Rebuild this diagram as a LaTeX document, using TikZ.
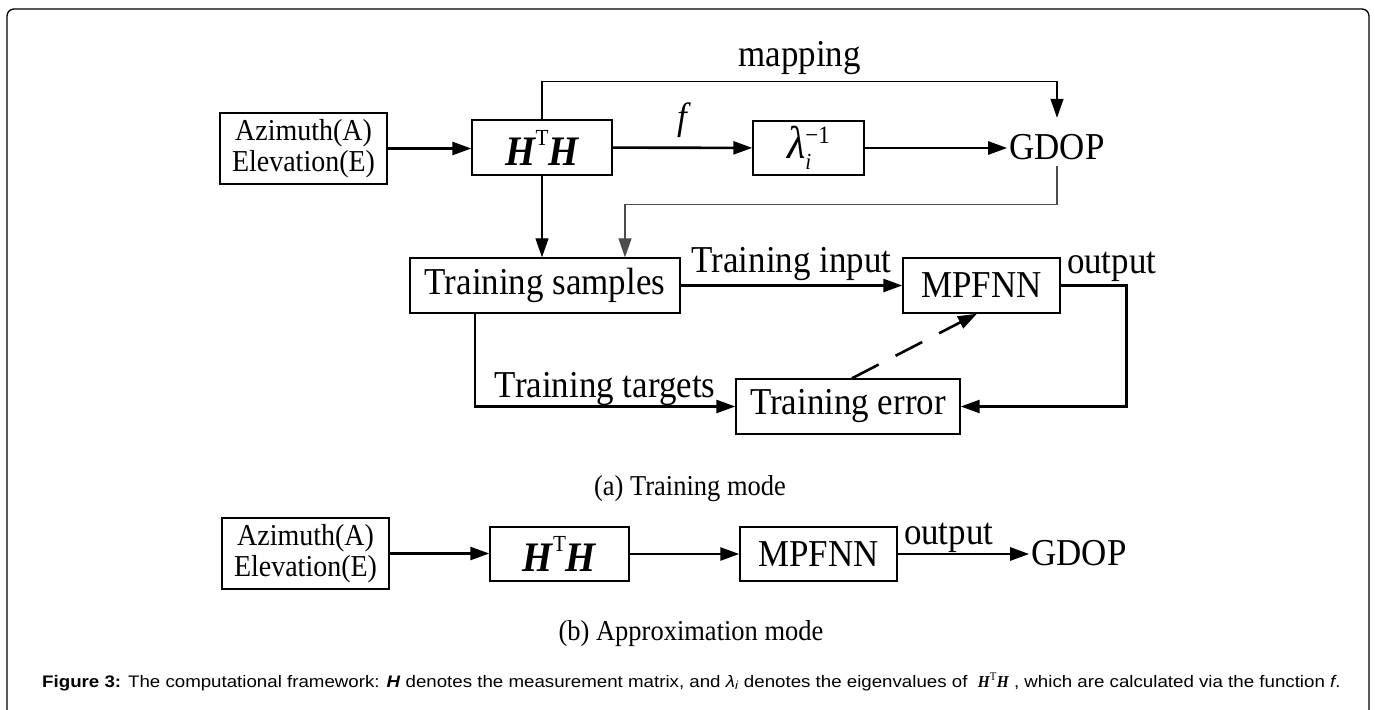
\documentclass[tikz,border=0pt]{standalone}
\usepackage{fontspec}
\setmainfont[FakeStretch=0.92]{Liberation Serif}
\newfontfamily\capfont[FakeStretch=1.12]{Liberation Sans}
\usetikzlibrary{arrows.meta}

\newcommand{\HtH}{{\fontsize{42}{42}\selectfont\bfseries\itshape H}\raisebox{20pt}{\fontsize{23}{23}\selectfont T}{\fontsize{42}{42}\selectfont\bfseries\itshape H}}
\newcommand{\lam}{{\fontsize{46}{46}\selectfont\itshape λ}\rlap{\raisebox{-11pt}{\fontsize{23}{23}\selectfont\itshape i}}\raisebox{15pt}{\fontsize{25}{25}\selectfont −1}}

\begin{document}
\begin{tikzpicture}[x=1pt,y=-1pt,
        every node/.style={font=\fontsize{38}{42}\selectfont},
        blk/.style 2 args={draw,line width=1.4pt,inner sep=0pt,minimum width=#1,minimum height=#2},
        lbl/.style={inner sep=0pt},
        arr/.style={line width=2.6pt,-{Triangle[length=19pt,width=13pt]}},
        thn/.style={line width=1.3pt,-{Triangle[length=19pt,width=13pt]}}]
        \useasboundingbox (0,0) rectangle (1375,709);
        \draw[line width=1.3pt,rounded corners=7pt] (7,9) rectangle (1369,740);

        \node[blk={167pt}{71pt},font=\fontsize{30.4}{31}\selectfont,align=center] (a1) at (303.5,148.5) {Azimuth(A)\\Elevation(E)};
        \node[blk={140pt}{55pt}] (h1) at (542,147.5) {\HtH};
        \node[blk={111pt}{54pt}] (l1) at (808.5,148) {\lam};
        \node[inner xsep=2pt,inner ysep=0pt,text height=22pt,text depth=0pt] (g1) at (1057,148) {GDOP};
        \node[blk={270pt}{55pt}] (s) at (545,285.5) {Training samples};
        \node[blk={157pt}{55pt}] (n1) at (981.5,285.5) {MPFNN};
        \node[blk={224pt}{55pt}] (e) at (848,406.5) {Training error};

        \draw[arr] (a1.east) -- (a1.east -| h1.west);
        \draw[arr] (h1) -- node[above=9pt,lbl] {\itshape f} (l1);
        \draw[arr] (l1.east) -- (g1.west);
        \draw[thn] (h1.north) -- ++(0,-38) -| node[pos=0.25,above=6pt,lbl] {mapping} ([yshift=19pt]g1.north);
        \draw[thn,black!70] ([yshift=-7pt]g1.south) -- ++(0,38) -| ([xshift=80pt]s.north);
        \draw[thn] (h1.south) -- (h1.south |- s.north);
        \draw[arr] (s.east) -- node[above=4pt,lbl] {Training input} (n1.west);
        \draw[arr] (n1.east) node[anchor=base west,xshift=5pt,yshift=12pt,lbl] {output} -- ++(66,0) |- (e.east);
        \draw[arr] ([xshift=-70pt]s.south) |- node[pos=0.75,above=0pt,lbl] {Training targets} (e.west);
        \draw[arr,dash pattern=on 30pt off 19pt] ([xshift=4pt]e.north) -- ([xshift=-4.5pt]n1.south);

        \node[font=\fontsize{28.8}{32}\selectfont,anchor=base] (ca) at (690,495) {(a) Training mode};

        \node[blk={167pt}{71pt},font=\fontsize{30.4}{31}\selectfont,align=center] (a2) at (305.5,553.5) {Azimuth(A)\\Elevation(E)};
        \node[blk={139pt}{54pt}] (h2) at (559.5,554) {\HtH};
        \node[blk={157pt}{54pt}] (n2) at (818.5,554) {MPFNN};
        \node[inner xsep=2pt,inner ysep=0pt,text height=22pt,text depth=0pt] (g2) at (1079,554) {GDOP};

        \draw[arr] (a2.east) -- (a2.east -| h2.west);
        \draw[arr] (h2) -- (n2);
        \draw[arr] (n2.east) node[anchor=base west,xshift=5pt,yshift=10pt,lbl] {output} -- (g2.west);

        \node[font=\fontsize{28.8}{32}\selectfont,anchor=base] (cb) at (691,640) {(b) Approximation mode};

        \node[font=\capfont\fontsize{16.7}{18}\selectfont,anchor=base west,inner sep=0pt] (cap) at (42,687) {\textbf{Figure 3:} The computational framework: \textbf{\textit{H}} denotes the measurement matrix, and \textit{λ}\textsubscript{\textit{i}} denotes the eigenvalues of \ {\rmfamily\bfseries\itshape H\textsuperscript{\mdseries\upshape T}H} , which are calculated via the function \textit{f}.};
\end{tikzpicture}
\end{document}
